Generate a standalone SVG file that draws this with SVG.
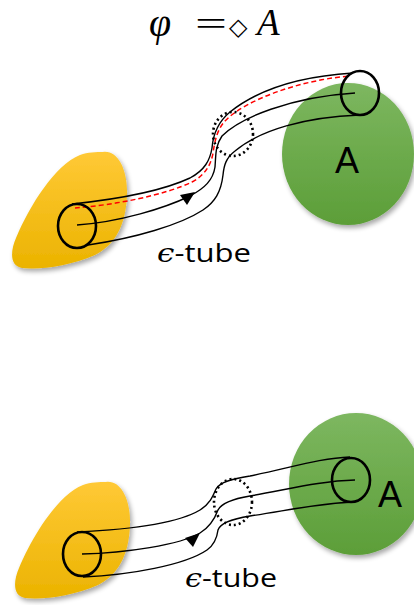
<svg xmlns="http://www.w3.org/2000/svg" width="414" height="605" viewBox="0 0 414 605">
<style>
.tube{fill:none;stroke:#000;stroke-width:1.4}
.ring{fill:none;stroke:#000;stroke-width:2.6}
.dot{fill:none;stroke:#000;stroke-width:2.6;stroke-dasharray:2 3}
.red{fill:none;stroke:#ff0000;stroke-width:1.5;stroke-dasharray:5 3}
.lbl{font-family:"Open Sans","Liberation Sans",sans-serif;font-size:26px;fill:#000}
.eps{font-family:"DejaVu Serif","Liberation Serif",serif;font-style:italic}
.big{font-family:"Liberation Sans",Arial,sans-serif;font-size:36px;fill:#000}
.math{font-family:"Liberation Serif","DejaVu Serif",serif;font-style:italic;fill:#000}
</style>
<defs>
<linearGradient id="gy" x1="0" y1="0" x2="0" y2="1">
<stop offset="0" stop-color="#ffc936"/><stop offset="1" stop-color="#ebb300"/>
</linearGradient>
<linearGradient id="gg" x1="0" y1="0" x2="0" y2="1">
<stop offset="0" stop-color="#7db760"/><stop offset="1" stop-color="#5c9e38"/>
</linearGradient>
<filter id="sh" x="-20%" y="-20%" width="150%" height="150%">
<feGaussianBlur in="SourceAlpha" stdDeviation="2.5"/>
<feOffset dx="1.5" dy="2.5" result="b"/>
<feComponentTransfer><feFuncA type="linear" slope="0.35"/></feComponentTransfer>
<feMerge><feMergeNode/><feMergeNode in="SourceGraphic"/></feMerge>
</filter>
<path id="blob" d="M103,152 C118,150 128,170 127,195 C126,225 115,245 95,255 C70,266 40,270 22,268 C10,266 10,252 16,238 C30,205 55,165 80,155 C88,152 96,152 103,152 Z"/>
</defs>
<rect width="414" height="605" fill="#fff"/>

<g id="title">
<text class="math" x="149" y="36" font-size="40">φ</text>
<text x="195" y="35" font-family="Liberation Serif,serif" font-size="34" textLength="32" lengthAdjust="spacingAndGlyphs">=</text>
<text x="229" y="35" font-family="DejaVu Sans,sans-serif" font-size="24" font-weight="bold">◇</text>
<text class="math" x="257" y="35" font-size="37">A</text>
</g>

<g id="init1"><use href="#blob" fill="url(#gy)" filter="url(#sh)"/></g>
<g id="A1">
<ellipse cx="348" cy="154" rx="66" ry="71" fill="url(#gg)" filter="url(#sh)"/>
<text class="big" x="347" y="173" text-anchor="middle">A</text>
</g>

<g id="init2"><use href="#blob" fill="url(#gy)" filter="url(#sh)" transform="translate(3,330)"/></g>
<g id="A2">
<ellipse cx="356" cy="484" rx="67" ry="71" fill="url(#gg)" filter="url(#sh)"/>
<text class="big" x="390" y="507" text-anchor="middle">A</text>
</g>

<g id="connectors">
<path class="tube" d="M72,204 C110,200 160,192 190,178 C205,170 210,160 212,148 C213,135 218,122 230,112 C260,88 305,76 353,73"/>
<path class="tube" d="M77,225 C120,222 165,208 190,196 C205,188 213,180 215,167 C216,155 215,146 222,136 C240,118 290,97 355,93"/>
<path class="tube" d="M88,245 C135,238 180,225 203,210 C215,202 221,192 223,175 C224,165 226,158 235,151 C260,130 305,117 360,115"/>
<path class="red" d="M75,208 C115,205 165,195 192,182 C205,175 211,165 213,153 C215,140 217,130 225,121 C245,100 300,80 350,76"/>
<polygon points="195,192 180,195 187,205" fill="#000"/>

<path class="tube" d="M77,532 C120,530 175,525 200,510 C210,504 213,496 216,489 C220,482 232,479 250,476 C290,468 320,458 350,457"/>
<path class="tube" d="M82,554 C125,553 180,545 200,533 C210,527 215,518 218,510 C221,504 232,499 250,496 C290,489 320,481 355,480"/>
<path class="tube" d="M83,577 C130,575 185,565 207,550 C214,545 217,538 218,530 C220,523 232,519 250,516 C290,510 320,503 355,502"/>
<polygon points="200,533 185,538 193,547" fill="#000"/>
</g>

<g id="rings1">
<ellipse class="ring" cx="77" cy="226" rx="19" ry="22"/>
<ellipse class="ring" cx="360" cy="93" rx="19" ry="22"/>
<ellipse class="dot" cx="233" cy="134" rx="20" ry="22"/>
</g>
<g id="rings2">
<ellipse class="ring" cx="82" cy="554" rx="19" ry="22"/>
<ellipse class="ring" cx="351" cy="480" rx="19" ry="22"/>
<ellipse class="dot" cx="233" cy="502" rx="19" ry="23"/>
</g>

<g id="label1"><text class="lbl" x="157" y="262" textLength="94" lengthAdjust="spacingAndGlyphs"><tspan class="eps">ϵ</tspan>-tube</text></g>
<g id="label2"><text class="lbl" x="185" y="587" textLength="92" lengthAdjust="spacingAndGlyphs"><tspan class="eps">ϵ</tspan>-tube</text></g>
</svg>
